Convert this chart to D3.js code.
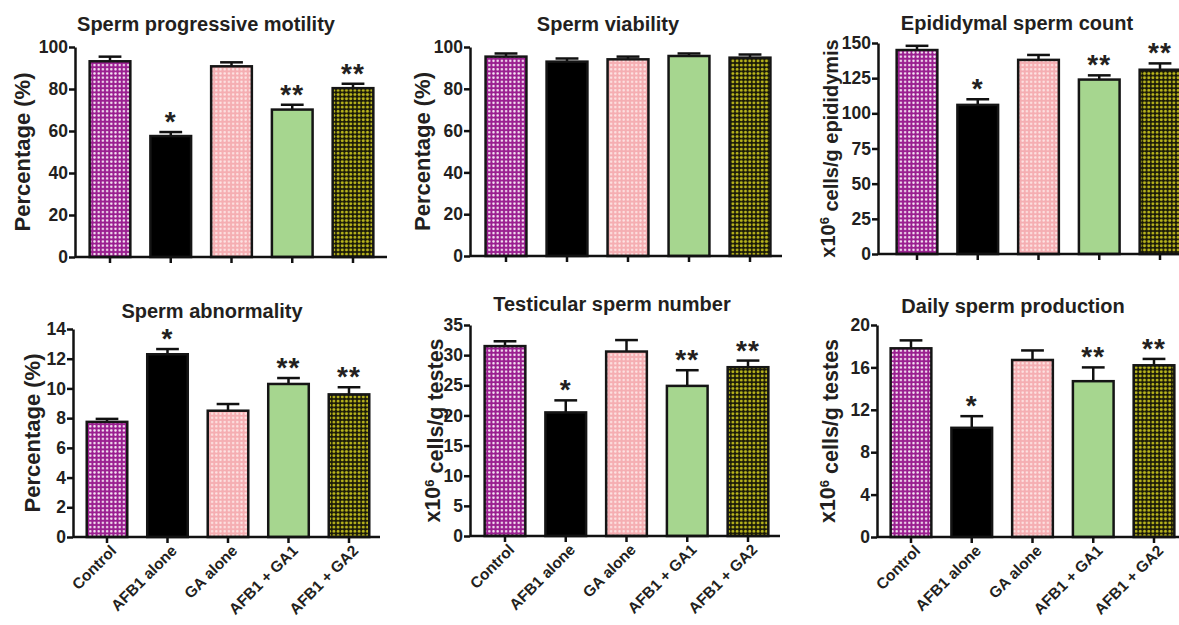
<!DOCTYPE html>
<html>
<head>
<meta charset="utf-8">
<script src="https://cdn.jsdelivr.net/npm/d3@7"></script>
<style>
  body { margin: 0; background: #fff; }
  text { font-family: "Liberation Sans", Arial, sans-serif; font-weight: bold; fill: #231f20; }
</style>
</head>
<body>
<div id="chart"></div>
<script>
// groups, same for all six panels
const groups = ["Control", "AFB1 alone", "GA alone", "AFB1 + GA1", "AFB1 + GA2"];

// Sperm progressive motility
const motilityMean = [93.2, 57.6, 90.8, 70.2, 80.4];
const motilityErr = [2.2, 1.9, 1.9, 2.3, 2.1];
const motilityStars = ["", "*", "", "**", "**"];
const motilityTicks = [0, 20, 40, 60, 80, 100];

// Sperm viability
const viabilityMean = [95.4, 93.0, 94.1, 95.7, 94.9];
const viabilityErr = [1.5, 1.5, 1.3, 1.2, 1.5];
const viabilityStars = ["", "", "", "", ""];
const viabilityTicks = [0, 20, 40, 60, 80, 100];

// Epididymal sperm count
const countMean = [145, 106, 138, 124, 131];
const countErr = [3, 4, 3.5, 3, 4.5];
const countStars = ["", "*", "", "**", "**"];
const countTicks = [0, 25, 50, 75, 100, 125, 150];

// Sperm abnormality
const abnormMean = [7.75, 12.3, 8.5, 10.3, 9.6];
const abnormErr = [0.2, 0.35, 0.45, 0.4, 0.48];
const abnormStars = ["", "*", "", "**", "**"];
const abnormTicks = [0, 2, 4, 6, 8, 10, 12, 14];

// Testicular sperm number
const testicMean = [31.5, 20.5, 30.6, 24.9, 28.0];
const testicErr = [0.8, 2.0, 1.9, 2.6, 1.1];
const testicStars = ["", "*", "", "**", "**"];
const testicTicks = [0, 5, 10, 15, 20, 25, 30, 35];

// Daily sperm production
const dailyMean = [17.8, 10.3, 16.7, 14.7, 16.2];
const dailyErr = [0.75, 1.1, 0.9, 1.3, 0.6];
const dailyStars = ["", "*", "", "**", "**"];
const dailyTicks = [0, 4, 8, 12, 16, 20];

var width = 1179, height = 625;

var svg = d3.select("#chart").append("svg")
  .attr("width", width)
  .attr("height", height);

// fills for the five groups (dotted like the prism patterns)
var defs = svg.append("defs");
function dotPattern(id, bg, dot, s, r) {
  var p = defs.append("pattern").attr("id", id)
    .attr("patternUnits", "userSpaceOnUse")
    .attr("width", s).attr("height", s);
  p.append("rect").attr("width", s).attr("height", s).attr("fill", bg);
  p.append("circle").attr("cx", s / 2).attr("cy", s / 2).attr("r", r).attr("fill", dot);
}
dotPattern("pControl", "#9a1f90", "#f6e6f3", 4.2, 1.25);
dotPattern("pGA", "#f5aeb2", "#fde3e3", 4.2, 1.25);
dotPattern("pGA2", "#1a1a08", "#b9b51c", 4.2, 1.5);

var fills = ["url(#pControl)", "#000", "url(#pGA)", "#a6d68f", "url(#pGA2)"];

// panel layout: axis x, axis end, y of zero, y of top tick, first/last bar centre
var panels = [
  { title: "Sperm progressive motility", ylab: "Percentage (%)", mean: motilityMean, err: motilityErr, stars: motilityStars, ticks: motilityTicks,
    ax: 75, xEnd: 387, y0: 257, yTop: 47, c0: 110, c4: 353, tx: 206, ty: 31, lx: 22, lfs: 22, xlabels: false },
  { title: "Sperm viability", ylab: "Percentage (%)", mean: viabilityMean, err: viabilityErr, stars: viabilityStars, ticks: viabilityTicks,
    ax: 470, xEnd: 782, y0: 256, yTop: 47, c0: 506, c4: 750, tx: 608, ty: 31, lx: 422, lfs: 22, xlabels: false },
  { title: "Epididymal sperm count", ylab: "x10|6| cells/g epididymis", mean: countMean, err: countErr, stars: countStars, ticks: countTicks,
    ax: 878, xEnd: 1185, y0: 254, yTop: 43, c0: 917, c4: 1160, tx: 1017, ty: 30, lx: 828, lfs: 20, xlabels: false },
  { title: "Sperm abnormality", ylab: "Percentage (%)", mean: abnormMean, err: abnormErr, stars: abnormStars, ticks: abnormTicks,
    ax: 73, xEnd: 380, y0: 537, yTop: 329, c0: 107, c4: 349, tx: 212, ty: 318, lx: 32, lfs: 22, xlabels: true },
  { title: "Testicular sperm number", ylab: "x10|6| cells/g testes", mean: testicMean, err: testicErr, stars: testicStars, ticks: testicTicks,
    ax: 470, xEnd: 780, y0: 536, yTop: 325, c0: 505, c4: 748, tx: 612, ty: 311, lx: 432, lfs: 21.5, xlabels: true },
  { title: "Daily sperm production", ylab: "x10|6| cells/g testes", mean: dailyMean, err: dailyErr, stars: dailyStars, ticks: dailyTicks,
    ax: 877, xEnd: 1185, y0: 537, yTop: 325, c0: 911, c4: 1154, tx: 1013, ty: 313, lx: 827, lfs: 21.5, xlabels: true }
];

panels.forEach(function (p) {
  var g = svg.append("g");
  var step = (p.c4 - p.c0) / 4;

  var x = d3.scaleBand()
    .domain(groups)
    .range([p.c0 - step / 2, p.c4 + step / 2])
    .paddingInner(0.33)
    .paddingOuter(0.165);

  var y = d3.scaleLinear()
    .domain([0, d3.max(p.ticks)])
    .range([p.y0, p.yTop]);

  var rows = groups.map(function (k, i) {
    return { key: k, v: p.mean[i], e: p.err[i], s: p.stars[i], f: fills[i] };
  });

  // error bars (upper only), drawn under the bars
  var eb = g.selectAll(".err").data(rows).enter().append("g");
  eb.append("line")
    .attr("x1", d => x(d.key) + x.bandwidth() / 2)
    .attr("x2", d => x(d.key) + x.bandwidth() / 2)
    .attr("y1", d => y(d.v))
    .attr("y2", d => y(d.v + d.e))
    .attr("stroke", "#111").attr("stroke-width", 2.5);
  eb.append("line")
    .attr("x1", d => x(d.key) + x.bandwidth() * 0.22)
    .attr("x2", d => x(d.key) + x.bandwidth() * 0.78)
    .attr("y1", d => y(d.v + d.e))
    .attr("y2", d => y(d.v + d.e))
    .attr("stroke", "#111").attr("stroke-width", 2.5);

  g.selectAll("rect.bar").data(rows).enter().append("rect")
    .attr("class", "bar")
    .attr("x", d => x(d.key))
    .attr("width", x.bandwidth())
    .attr("y", d => y(d.v))
    .attr("height", d => p.y0 - y(d.v))
    .attr("fill", d => d.f)
    .attr("stroke", "#151515")
    .attr("stroke-width", 2.5);

  // significance stars
  g.selectAll("text.star").data(rows.filter(d => d.s)).enter().append("text")
    .attr("class", "star")
    .attr("x", d => x(d.key) + x.bandwidth() / 2)
    .attr("y", d => y(d.v + d.e) - 1)
    .attr("text-anchor", "middle")
    .style("font-size", "28px")
    .style("letter-spacing", "1px")
    .text(d => d.s);

  // y axis
  var ya = g.append("g")
    .attr("transform", "translate(" + p.ax + ",0)")
    .call(d3.axisLeft(y).tickValues(p.ticks).tickSize(6).tickSizeOuter(0).tickPadding(1));
  ya.select(".domain").attr("stroke", "#111").attr("stroke-width", 2.5);
  ya.selectAll(".tick line").attr("stroke", "#111").attr("stroke-width", 2.5);
  ya.selectAll(".tick text").style("font-size", "17.5px").attr("fill", "#231f20");

  // x axis
  var xa = g.append("g")
    .attr("transform", "translate(0," + p.y0 + ")")
    .call(d3.axisBottom(x).tickSize(6).tickSizeOuter(0).tickPadding(4));
  xa.select(".domain").attr("d", "M" + p.ax + ",0H" + p.xEnd)
    .attr("stroke", "#111").attr("stroke-width", 2.5);
  xa.selectAll(".tick line").attr("stroke", "#111").attr("stroke-width", 2.5);
  if (p.xlabels) {
    xa.selectAll(".tick text")
      .style("font-size", "15.5px")
      .attr("fill", "#231f20")
      .attr("text-anchor", "end")
      .attr("dx", "-0.2em")
      .attr("dy", "0.5em")
      .attr("transform", "rotate(-45)");
  } else {
    xa.selectAll(".tick text").remove();
  }

  // title
  g.append("text")
    .attr("x", p.tx).attr("y", p.ty)
    .attr("text-anchor", "middle")
    .style("font-size", "20px")
    .text(p.title);

  // y label, "|6|" marks a superscript
  var parts = p.ylab.split("|");
  var yl = g.append("text")
    .attr("transform", "translate(" + p.lx + "," + ((p.y0 + p.yTop) / 2) + ") rotate(-90)")
    .attr("text-anchor", "middle")
    .attr("dy", "0.35em")
    .style("font-size", p.lfs + "px");
  if (parts.length === 1) {
    yl.text(parts[0]);
  } else {
    yl.append("tspan").text(parts[0]);
    yl.append("tspan").attr("dy", "-0.45em").style("font-size", "13px").text(parts[1]);
    yl.append("tspan").attr("dy", "0.45em").text(parts[2]);
  }
});
</script>
</body>
</html>
